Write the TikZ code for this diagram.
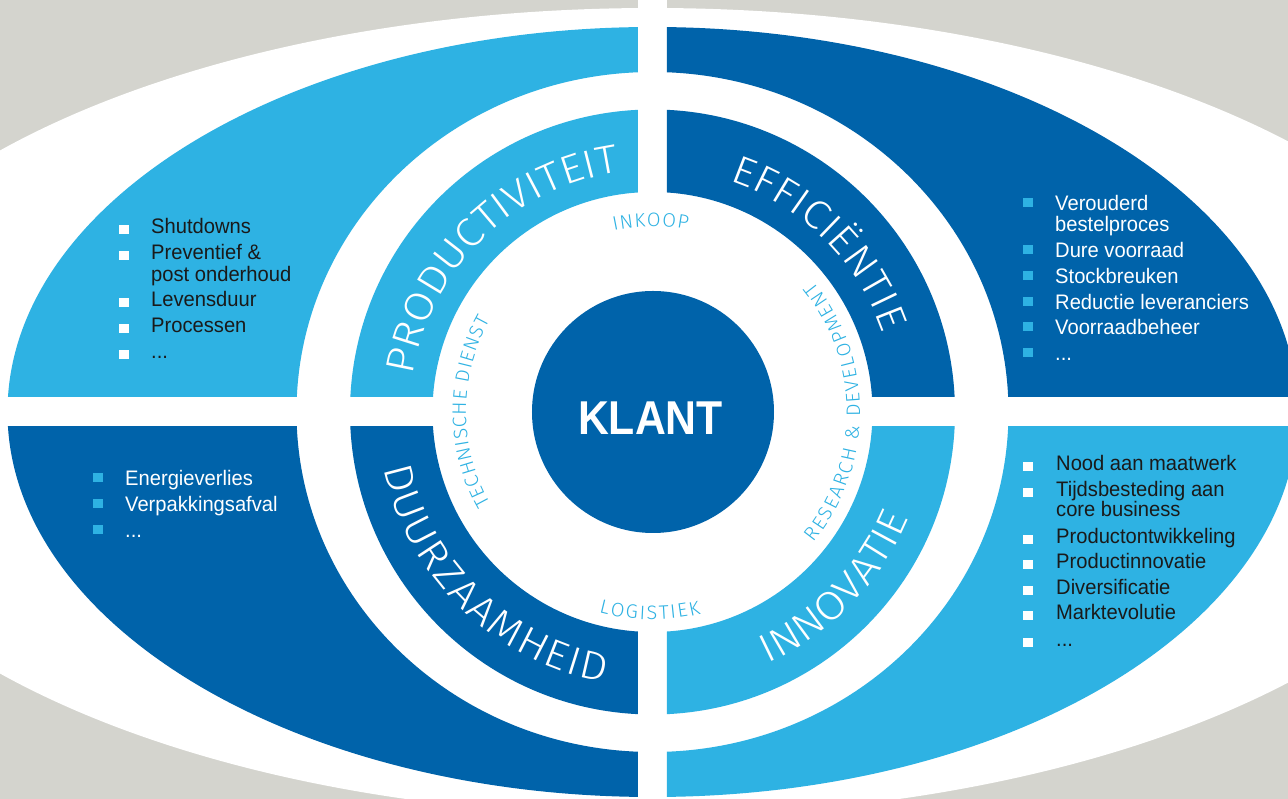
\documentclass[tikz,border=0pt]{standalone}
\usepackage{fontspec}
\setmainfont{Liberation Sans}
\newfontfamily\listfont{Liberation Sans}[FakeStretch=0.96]
\newfontfamily\klantfont{Liberation Sans}[FakeStretch=0.9]
\IfFontExistsTF{Fira Sans Light}
  {\newfontfamily\ringfont{Fira Sans Light}[FakeStretch=1.1]
   \newfontfamily\ringsmallfont{Fira Sans Light}[FakeStretch=1.02]}
  {\newfontfamily\ringfont{Liberation Sans}[FakeStretch=0.88]
   \newfontfamily\ringsmallfont{Liberation Sans}[FakeStretch=0.85]}
\usetikzlibrary{decorations.text}
\definecolor{lblue}{RGB}{46,178,227}
\definecolor{dblue}{RGB}{0,99,170}
\definecolor{bggrey}{RGB}{212,212,206}
\definecolor{txtdark}{RGB}{26,26,26}
\newcommand{\bigfmt}{\ringfont\fontsize{40}{42}\selectfont\color{white}}
\newcommand{\smallfmt}{\ringsmallfont\fontsize{19.5}{21}\selectfont\color{lblue}}
\newcommand{\ringlabel}[4]{%
  \path[decorate, decoration={text along path, text={#4}, text align=fit to path}]
    (#1:#3pt) arc[start angle=#1, end angle=#2, radius=#3pt];}
\tikzset{
  item/.style={anchor=base west, inner sep=0pt, font=\listfont\fontsize{21}{24}\selectfont},
  darkitem/.style={item, text=txtdark},
  lightitem/.style={item, text=white},
  wbullet/.style={fill=white},
  bbullet/.style={fill=lblue},
}
\begin{document}
\begin{tikzpicture}[x=1pt,y=1pt]
\useasboundingbox (-652.5,-387) rectangle (635.5,412);
\clip (-652.5,-387) rectangle (635.5,412);
% background
\fill[bggrey] (-652.5,-387) rectangle (635.5,412);
\fill[white] (0,0) ellipse[x radius=856pt, y radius=404pt];
\fill[white] (-14.5,-400) rectangle (14.5,420);
% top left
\begin{scope}
  \clip (-700,15) rectangle (-14.5,450);
  \fill[lblue, even odd rule] (0,0) ellipse[x radius=645pt, y radius=385pt] (0,0) ellipse[x radius=356pt, y radius=340pt];
  \fill[lblue, even odd rule] (0,0) circle[radius=302.5pt] (0,0) circle[radius=220pt];
\end{scope}
% top right
\begin{scope}
  \clip (14.5,15) rectangle (700,450);
  \fill[dblue, even odd rule] (0,0) ellipse[x radius=645pt, y radius=385pt] (0,0) ellipse[x radius=356pt, y radius=340pt];
  \fill[dblue, even odd rule] (0,0) circle[radius=302.5pt] (0,0) circle[radius=220pt];
\end{scope}
% bottom left
\begin{scope}
  \clip (-700,-15) rectangle (-14.5,-450);
  \fill[dblue, even odd rule] (0,0) ellipse[x radius=645pt, y radius=385pt] (0,0) ellipse[x radius=356pt, y radius=340pt];
  \fill[dblue, even odd rule] (0,0) circle[radius=302.5pt] (0,0) circle[radius=220pt];
\end{scope}
% bottom right
\begin{scope}
  \clip (14.5,-15) rectangle (700,-450);
  \fill[lblue, even odd rule] (0,0) ellipse[x radius=645pt, y radius=385pt] (0,0) ellipse[x radius=356pt, y radius=340pt];
  \fill[lblue, even odd rule] (0,0) circle[radius=302.5pt] (0,0) circle[radius=220pt];
\end{scope}
% centre
\fill[dblue] (0.5,0) circle[radius=121pt];
\node[anchor=base, inner sep=0pt, text=white, font=\klantfont\bfseries\fontsize{47.5}{50}\selectfont] (klant) at (-2,-23) {KLANT};
% ring labels
\ringlabel{171.4}{98.1}{242}{|\bigfmt|PRODUCTIVITEIT}
\ringlabel{71.6}{18.9}{243.5}{|\bigfmt|EFFICIËNTIE}
\ringlabel{191.8}{260}{274.5}{|\bigfmt|DUURZAAMHEID}
\ringlabel{294.6}{337}{277}{|\bigfmt|INNOVATIE}
\ringlabel{102}{79}{185.5}{|\smallfmt|INKOOP}
\ringlabel{209.5}{150.5}{186.5}{|\smallfmt|TECHNISCHE DIENST}
\ringlabel{-39}{39}{207.5}{|\smallfmt|RESEARCH {\&} DEVELOPMENT}
\ringlabel{255}{283.5}{207.5}{|\smallfmt|LOGISTIEK}
% top-left list
\foreach \yy in {178,152,105,79,53} \fill[wbullet] (-533.5,\yy) rectangle ++(10,9);
\node[darkitem] (tl1) at (-501.5,178) {Shutdowns};
\node[darkitem] (tl2) at (-501.5,152) {Preventief \&};
\node[darkitem] (tl3) at (-501.5,130) {post onderhoud};
\node[darkitem] (tl4) at (-501.5,105) {Levensduur};
\node[darkitem] (tl5) at (-501.5,79) {Processen};
\node[darkitem] (tl6) at (-501.5,53) {...};
% top-right list
\foreach \yy in {201,154,128,102,77,51} \fill[bbullet] (370.5,\yy+4) rectangle ++(10,9);
\node[lightitem] (tr1) at (402.5,201) {Verouderd};
\node[lightitem] (tr2) at (402.5,180) {bestelproces};
\node[lightitem] (tr3) at (402.5,154) {Dure voorraad};
\node[lightitem] (tr4) at (402.5,128) {Stockbreuken};
\node[lightitem] (tr5) at (402.5,102) {Reductie leveranciers};
\node[lightitem] (tr6) at (402.5,77) {Voorraadbeheer};
\node[lightitem] (tr7) at (402.5,51) {...};
% bottom-left list
\foreach \yy in {-74,-100,-126} \fill[bbullet] (-559.5,\yy+4) rectangle ++(10,9);
\node[lightitem] (bl1) at (-527.5,-74) {Energieverlies};
\node[lightitem] (bl2) at (-527.5,-100) {Verpakkingsafval};
\node[lightitem] (bl3) at (-527.5,-126) {...};
% bottom-right list
\foreach \yy in {-59,-85,-132,-157,-183,-208,-235} \fill[wbullet] (370.5,\yy) rectangle ++(10,9);
\node[darkitem] (br1) at (403.5,-59) {Nood aan maatwerk};
\node[darkitem] (br2) at (403.5,-85) {Tijdsbesteding aan};
\node[darkitem] (br3) at (403.5,-105) {core business};
\node[darkitem] (br4) at (403.5,-132) {Productontwikkeling};
\node[darkitem] (br5) at (403.5,-157) {Productinnovatie};
\node[darkitem] (br6) at (403.5,-183) {Diversificatie};
\node[darkitem] (br7) at (403.5,-208) {Marktevolutie};
\node[darkitem] (br8) at (403.5,-235) {...};
\end{tikzpicture}
\end{document}
